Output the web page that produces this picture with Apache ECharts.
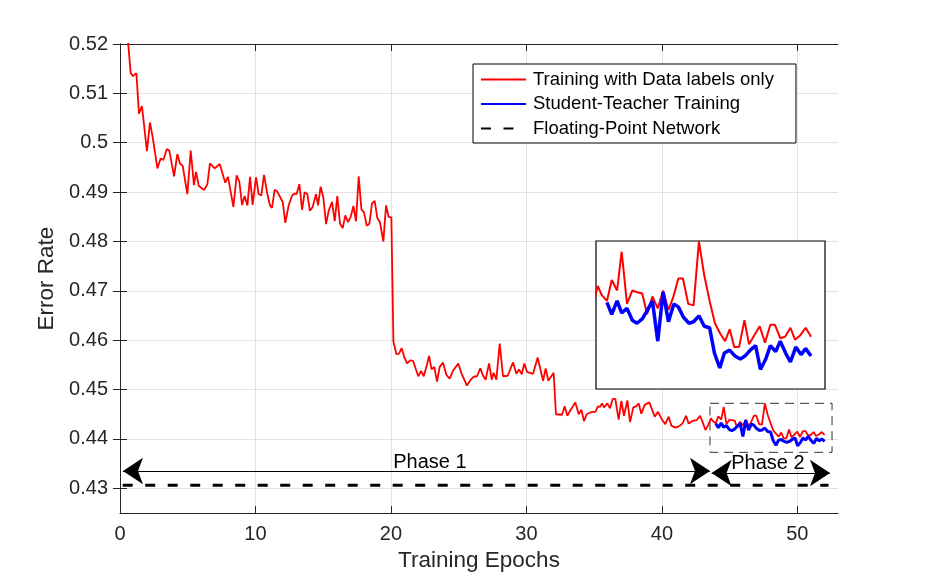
<!DOCTYPE html>
<html>
<head>
<meta charset="utf-8">
<script src="https://cdn.jsdelivr.net/npm/echarts@6/dist/echarts.min.js"></script>
<style>
  html, body { margin: 0; padding: 0; background: #fff; }
  #chart { width: 928px; height: 578px; }
</style>
</head>
<body>
<div id="chart"></div>
<script>
// values
const redEpoch = [
  0.50, 0.79, 0.96, 1.21, 1.40, 1.62, 1.99, 2.21, 2.41, 2.76, 3.00, 3.20, 3.45, 3.64, 3.99,
  4.23, 4.43, 4.63, 4.97, 5.22, 5.46, 5.61, 5.81, 6.20, 6.45, 6.64, 6.99, 7.36, 7.77, 7.97,
  8.37, 8.61, 8.81, 9.01, 9.20, 9.40, 9.60, 9.79,
  10.04, 10.24, 10.43, 10.63, 10.88, 11.07, 11.22, 11.42, 11.61, 12.01, 12.20, 12.45, 12.70,
  12.89, 13.04, 13.24, 13.44, 13.63, 13.83, 14.02, 14.22, 14.47, 14.62, 14.81, 15.01, 15.21,
  15.40, 15.65, 15.85, 16.04, 16.24, 16.44, 16.63, 16.83, 17.03, 17.23, 17.42, 17.62, 17.82,
  18.01, 18.21, 18.41, 18.60, 18.80, 19.00, 19.19, 19.44, 19.64, 19.83, 20.03,
  20.18, 20.40, 20.60, 20.79, 20.99, 21.19, 21.43, 21.63, 22.02, 22.22, 22.42, 22.61, 22.81,
  23.00, 23.20, 23.40, 23.60, 23.84, 24.09, 24.33, 24.58, 24.97, 25.22, 25.61, 25.86, 26.11,
  26.35, 26.60, 26.80, 26.99, 27.24, 27.44, 27.58, 27.78, 28.03, 28.27, 28.62, 29.01, 29.26,
  29.45, 29.65, 29.85, 30.04, 30.49, 30.83, 31.23, 31.42, 31.62, 32.01,
  32.18, 32.63, 32.82, 33.02, 33.27, 33.61, 33.86, 34.06, 34.25, 34.45, 34.84, 35.09, 35.28,
  35.43, 35.58, 35.73, 35.97, 36.17, 36.37, 36.56, 36.81, 37.01, 37.20, 37.45, 37.65, 37.89,
  38.09, 38.29, 38.48, 38.73, 39.08, 39.47, 39.71, 40.01, 40.25, 40.50, 40.70, 40.99, 41.29,
  41.54, 41.78, 41.98, 42.22, 42.57, 42.81, 43.01, 43.21, 43.42,
  43.62, 43.77, 43.98, 44.17, 44.38, 44.56, 44.77, 44.98, 45.14, 45.37, 45.56, 45.77, 45.98,
  46.19, 46.40, 46.58, 46.79, 46.97, 47.18, 47.39, 47.60, 47.81, 48.02, 48.23, 48.44, 48.63,
  48.81, 48.99, 49.18, 49.39, 49.57, 49.78, 49.99, 50.20, 50.41, 50.59, 50.80, 50.99, 51.20,
  51.38, 51.59, 51.80, 52.01
];
const redError = [
  0.5235, 0.5141, 0.5135, 0.5141, 0.5059, 0.5074, 0.4983, 0.5041, 0.5012, 0.4948, 0.4968, 0.4965, 0.4987, 0.4984, 0.4932,
  0.4977, 0.4958, 0.4953, 0.4896, 0.4984, 0.4914, 0.4941, 0.4913, 0.4904, 0.4916, 0.4958, 0.4948, 0.4957, 0.4919, 0.4931,
  0.4870, 0.4934, 0.4921, 0.4874, 0.4892, 0.4873, 0.4931, 0.4874,
  0.4930, 0.4896, 0.4893, 0.4935, 0.4896, 0.4873, 0.4868, 0.4905, 0.4901, 0.4880, 0.4838, 0.4873, 0.4893,
  0.4897, 0.4896, 0.4916, 0.4864, 0.4900, 0.4896, 0.4862, 0.4870, 0.4896, 0.4873, 0.4911, 0.4889, 0.4835,
  0.4862, 0.4880, 0.4841, 0.4892, 0.4836, 0.4827, 0.4853, 0.4839, 0.4850, 0.4872, 0.4841, 0.4932, 0.4865,
  0.4859, 0.4832, 0.4836, 0.4877, 0.4882, 0.4847, 0.4839, 0.4800, 0.4873, 0.4850, 0.4849,
  0.4598, 0.4572, 0.4573, 0.4584, 0.4565, 0.4553, 0.4559, 0.4558, 0.4527, 0.4538, 0.4527, 0.4545, 0.4568,
  0.4541, 0.4546, 0.4516, 0.4546, 0.4555, 0.4530, 0.4522, 0.4538, 0.4553, 0.4532, 0.4508, 0.4519, 0.4526,
  0.4527, 0.4543, 0.4528, 0.4520, 0.4553, 0.4520, 0.4534, 0.4520, 0.4593, 0.4527, 0.4528, 0.4555, 0.4532,
  0.4541, 0.4531, 0.4553, 0.4536, 0.4532, 0.4565, 0.4518, 0.4543, 0.4518, 0.4534,
  0.4450, 0.4449, 0.4466, 0.4447, 0.4459, 0.4474, 0.4450, 0.4459, 0.4436, 0.4450, 0.4455, 0.4455, 0.4466,
  0.4465, 0.4472, 0.4464, 0.4472, 0.4462, 0.4481, 0.4481, 0.4439, 0.4477, 0.4447, 0.4478, 0.4434, 0.4464,
  0.4466, 0.4472, 0.4451, 0.4469, 0.4474, 0.4445, 0.4455, 0.4439, 0.4430, 0.4445, 0.4427, 0.4423, 0.4426,
  0.4432, 0.4447, 0.4431, 0.4436, 0.4438, 0.4447, 0.4434, 0.4418, 0.4428,
  0.4442, 0.4436, 0.4432, 0.4446, 0.4439, 0.4465, 0.4430, 0.4439, 0.4438, 0.4437, 0.4423, 0.4435, 0.4427,
  0.4439, 0.4426, 0.4434, 0.4447, 0.4447, 0.4430, 0.4429, 0.4472, 0.4449, 0.4432, 0.4417, 0.4410, 0.4405,
  0.4413, 0.4401, 0.4401, 0.4419, 0.4403, 0.4409, 0.4415, 0.4404, 0.4416, 0.4416, 0.4407, 0.4408, 0.4414,
  0.4406, 0.4409, 0.4414, 0.4408
];

const blueEpoch = [
  43.98, 44.17, 44.38, 44.56, 44.77, 44.98, 45.16, 45.37, 45.58, 45.77, 45.98, 46.19, 46.40,
  46.61, 46.79, 46.99, 47.21, 47.39, 47.60, 47.81, 48.02, 48.21, 48.42, 48.60, 48.81, 49.02,
  49.23, 49.41, 49.62, 49.83, 50.02, 50.23, 50.41, 50.62, 50.80, 51.01, 51.20, 51.41, 51.62,
  51.80, 52.01
];
const blueError = [
  0.4431, 0.4423, 0.4432, 0.4424, 0.4427, 0.4419, 0.4417, 0.4420, 0.4426, 0.4432, 0.4405, 0.4438, 0.4418,
  0.4430, 0.4428, 0.4421, 0.4417, 0.4418, 0.4422, 0.4415, 0.4414, 0.4397, 0.4387, 0.4397, 0.4399, 0.4395,
  0.4393, 0.4395, 0.4399, 0.4402, 0.4386, 0.4393, 0.4402, 0.4398, 0.4405, 0.4397, 0.4391, 0.4401, 0.4396,
  0.4400, 0.4395
];

const floatEpoch = [0.2, 52.3];
const floatError = [0.4306, 0.4306];

const xTicks = [0, 10, 20, 30, 40, 50];
const yTicks = [0.43, 0.44, 0.45, 0.46, 0.47, 0.48, 0.49, 0.5, 0.51, 0.52];

const names = ['Training with Data labels only', 'Student-Teacher Training', 'Floating-Point Network'];

// zoomed window shown in the inset (dashed box)
const zoomX = [43.55, 52.56];
const zoomY = [0.43729, 0.44722];

// annotations
const phase1Span = [0.22, 43.55];
const phase2Span = [43.67, 52.41];
const phaseLevel = [0.4335, 0.4331];
const phaseLabels = [
  { name: 'Phase 1', coord: [22.88, 0.4353] },
  { name: 'Phase 2', coord: [47.83, 0.4350] }
];

const FONT = 'Liberation Sans, Arial, Helvetica, sans-serif';
const AXIS_COLOR = '#262626';

const pairs = (xs, ys) => xs.map((x, i) => [x, ys[i]]);

const chart = echarts.init(document.getElementById('chart'));

const hiddenAxis = { show: false };

const option = {
  animation: false,
  backgroundColor: '#fff',
  grid: [
    { left: 120, top: 44, right: 90, bottom: 65, containLabel: false },
    {
      left: 596, top: 241, width: 229, height: 148, show: true, z: 5,
      backgroundColor: '#fff', borderColor: '#000', borderWidth: 1.2
    }
  ],
  legend: {
    data: names,
    orient: 'vertical',
    left: 473,
    top: 64,
    itemWidth: 45,
    itemHeight: 14,
    itemGap: 5.5,
    padding: [6, 22, 5, 7],
    backgroundColor: '#fff',
    borderColor: '#000',
    borderWidth: 1,
    itemStyle: { opacity: 0 },
    textStyle: { fontFamily: FONT, fontSize: 18.5, color: '#000', padding: [0, 0, 0, 2] }
  },
  xAxis: [
    {
      type: 'value', gridIndex: 0, min: 0, max: 53,
      name: 'Training Epochs', nameLocation: 'middle', nameGap: 36,
      nameTextStyle: { fontFamily: FONT, fontSize: 22.5, color: AXIS_COLOR },
      axisLine: { show: true, lineStyle: { color: AXIS_COLOR, width: 1 } },
      axisTick: { show: true, inside: true, length: 7, customValues: xTicks, lineStyle: { color: AXIS_COLOR } },
      axisLabel: { customValues: xTicks, margin: 11, fontFamily: FONT, fontSize: 20, color: AXIS_COLOR },
      splitLine: { show: true, lineStyle: { color: '#e2e2e2', width: 1 } }
    },
    {
      type: 'value', gridIndex: 0, position: 'top', min: 0, max: 53,
      axisLine: { show: true, lineStyle: { color: AXIS_COLOR, width: 1 } },
      axisTick: { show: true, inside: true, length: 7, customValues: xTicks, lineStyle: { color: AXIS_COLOR } },
      axisLabel: { show: false },
      splitLine: { show: false }
    },
    Object.assign({ type: 'value', gridIndex: 1, min: zoomX[0], max: zoomX[1] }, hiddenAxis)
  ],
  yAxis: [
    {
      type: 'value', gridIndex: 0, min: 0.425, max: 0.52,
      name: 'Error Rate', nameLocation: 'middle', nameGap: 60,
      nameTextStyle: { fontFamily: FONT, fontSize: 22.5, color: AXIS_COLOR },
      axisLine: { show: true, lineStyle: { color: AXIS_COLOR, width: 1 } },
      axisTick: { show: true, inside: true, length: 7, customValues: yTicks, lineStyle: { color: AXIS_COLOR } },
      axisLabel: { customValues: yTicks, margin: 12, fontFamily: FONT, fontSize: 20, color: AXIS_COLOR },
      splitLine: { show: true, lineStyle: { color: '#e2e2e2', width: 1 } }
    },
    {
      type: 'value', gridIndex: 0, position: 'right', min: 0.425, max: 0.52,
      axisLine: { show: true, lineStyle: { color: AXIS_COLOR, width: 1 } },
      axisTick: { show: true, inside: true, length: 7, customValues: yTicks, lineStyle: { color: AXIS_COLOR } },
      axisLabel: { show: false },
      splitLine: { show: false }
    },
    Object.assign({ type: 'value', gridIndex: 1, min: zoomY[0], max: zoomY[1] }, hiddenAxis)
  ],
  series: [
    {
      name: names[0], type: 'line', xAxisIndex: 0, yAxisIndex: 0,
      data: pairs(redEpoch, redError),
      showSymbol: false, symbol: 'none', clip: true,
      lineStyle: { color: '#ff0000', width: 1.8 },
      itemStyle: { color: '#ff0000' }
    },
    {
      name: names[1], type: 'line', xAxisIndex: 0, yAxisIndex: 0,
      data: pairs(blueEpoch, blueError),
      showSymbol: false, symbol: 'none',
      lineStyle: { color: '#0000ff', width: 3 },
      itemStyle: { color: '#0000ff' }
    },
    {
      name: names[2], type: 'line', xAxisIndex: 0, yAxisIndex: 0,
      data: pairs(floatEpoch, floatError),
      showSymbol: false, symbol: 'none',
      lineStyle: { color: '#000', width: 3, type: [10, 12.5] },
      itemStyle: { color: '#000' },
      markLine: {
        silent: true,
        symbol: ['arrow', 'arrow'],
        symbolSize: 20,
        label: { show: false },
        lineStyle: { color: '#000', width: 1.2, type: 'solid' },
        data: [
          [{ coord: [phase1Span[0], phaseLevel[0]] }, { coord: [phase1Span[1], phaseLevel[0]] }],
          [{ coord: [phase2Span[0], phaseLevel[1]] }, { coord: [phase2Span[1], phaseLevel[1]] }]
        ]
      },
      markArea: {
        silent: true,
        itemStyle: { color: 'rgba(0,0,0,0)', borderColor: '#333', borderWidth: 1, borderType: [9, 6] },
        label: { show: false },
        data: [[{ coord: [zoomX[0], zoomY[1]] }, { coord: [zoomX[1], zoomY[0]] }]]
      },
      markPoint: {
        silent: true,
        symbol: 'circle',
        symbolSize: 1,
        itemStyle: { color: 'rgba(0,0,0,0)' },
        label: { show: true, position: 'inside', formatter: '{b}', fontFamily: FONT, fontSize: 20, color: '#000' },
        data: phaseLabels
      }
    },
    {
      name: 'inset-red', type: 'line', xAxisIndex: 2, yAxisIndex: 2, z: 10,
      data: pairs(redEpoch, redError),
      showSymbol: false, symbol: 'none', clip: true,
      lineStyle: { color: '#ff0000', width: 2 }
    },
    {
      name: 'inset-blue', type: 'line', xAxisIndex: 2, yAxisIndex: 2, z: 11,
      data: pairs(blueEpoch, blueError),
      showSymbol: false, symbol: 'none', clip: true,
      lineStyle: { color: '#0000ff', width: 3.5 }
    }
  ]
};

chart.setOption(option);
</script>
</body>
</html>
